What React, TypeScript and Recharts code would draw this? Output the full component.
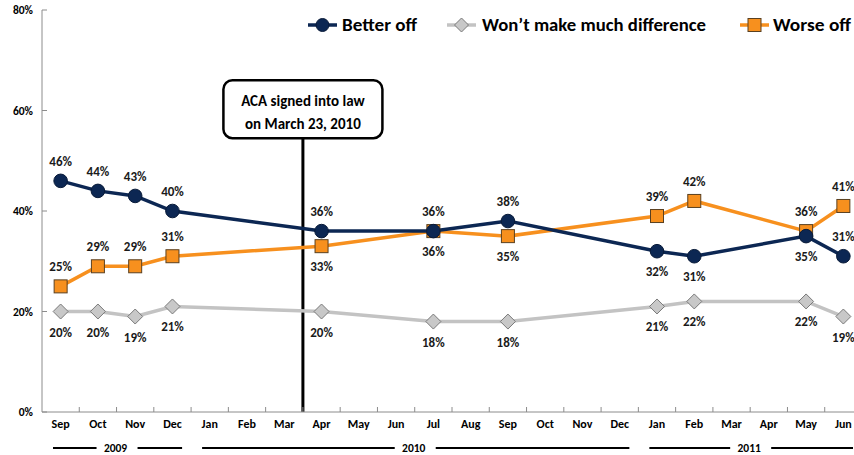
import React from "react";
import { LineChart, Line, XAxis, YAxis, ReferenceLine, LabelList } from "recharts";

const months = ["Sep", "Oct", "Nov", "Dec", "Jan", "Feb", "Mar", "Apr", "May", "Jun", "Jul", "Aug", "Sep", "Oct", "Nov", "Dec", "Jan", "Feb", "Mar", "Apr", "May", "Jun"];
const years = ["2009", "2009", "2009", "2009", "2010", "2010", "2010", "2010", "2010", "2010", "2010", "2010", "2010", "2010", "2010", "2010", "2011", "2011", "2011", "2011", "2011", "2011"];

const betterOff = [46, 44, 43, 40, null, null, null, 36, null, null, 36, null, 38, null, null, null, 32, 31, null, null, 35, 31];
const noDifference = [20, 20, 19, 21, null, null, null, 20, null, null, 18, null, 18, null, null, null, 21, 22, null, null, 22, 19];
const worseOff = [25, 29, 29, 31, null, null, null, 33, null, null, 36, null, 35, null, null, null, 39, 42, null, null, 36, 41];

// which points carry their label under the marker
const betterBelow = [16, 17, 20];
const worseBelow = [7, 10, 12];
const noDiffBelow = [0, 1, 2, 3, 7, 10, 12, 16, 17, 20, 21];

const yTicks = [0, 20, 40, 60, 80];

const NAVY = "#0c2753";
const ORANGE = "#f7901e";
const GRAY = "#c3c3c3";
const FONT = "Carlito, Calibri, Lato, 'Open Sans', sans-serif";

const CHART_W = 862;
const CHART_H = 455;
const Y_AXIS_W = 42;
const PLOT_W = CHART_W - Y_AXIS_W;
const BAND = PLOT_W / months.length;

const data = months.map((m, i) => ({
  key: `${m}-${years[i]}-${i}`,
  month: m,
  better: betterOff[i],
  same: noDifference[i],
  worse: worseOff[i],
}));

const yearGroups = years.reduce<{ label: string; from: number; to: number }[]>((acc, y, i) => {
  const last = acc[acc.length - 1];
  if (last && last.label === y) last.to = i;
  else acc.push({ label: y, from: i, to: i });
  return acc;
}, []);

function MonthTick(props: any) {
  const { x, y, payload } = props;
  const i = payload.index;
  const group = yearGroups.find((g) => g.from === i);
  let yearMark = null;
  if (group) {
    const cx = x + ((group.to - group.from) * BAND) / 2;
    const start = x - BAND / 2 + 11;
    const end = x + (group.to - group.from) * BAND + BAND / 2 - 9;
    yearMark = (
      <g>
        <line x1={start} x2={cx - 20} y1={y + 36} y2={y + 36} stroke="#000" strokeWidth={2} />
        <line x1={cx + 21} x2={end} y1={y + 36} y2={y + 36} stroke="#000" strokeWidth={2} />
        <text x={cx - 1} y={y + 40} textAnchor="middle" fontSize={11.5} fontWeight={700} fill="#000">
          {group.label}
        </text>
      </g>
    );
  }
  return (
    <g>
      {i > 0 && <line x1={x - BAND / 2} x2={x - BAND / 2} y1={y} y2={y - 5} stroke="#8c8c8c" />}
      <text x={x} y={y + 16} textAnchor="middle" fontSize={12} fontWeight={700} fill="#000">
        {months[i]}
      </text>
      {yearMark}
    </g>
  );
}

const makeLabel = (below: number[]) => (props: any) => {
  const { x, y, value, index } = props;
  if (value == null || x == null || y == null) return null;
  const down = below.includes(index);
  return (
    <text x={x} y={down ? y + 25 : y - 15} textAnchor="middle" fontSize={13} fontWeight={700} fill="#1a1a1a">
      {`${value}%`}
    </text>
  );
};

const Diamond = (props: any) => {
  const { cx, cy } = props;
  if (cx == null || cy == null) return null;
  const s = 7.5;
  return (
    <path
      d={`M${cx},${cy - s}L${cx + s},${cy}L${cx},${cy + s}L${cx - s},${cy}Z`}
      fill="#c8c8c8"
      stroke="#7a7a7a"
      strokeWidth={1}
    />
  );
};

const Square = (props: any) => {
  const { cx, cy } = props;
  if (cx == null || cy == null) return null;
  const s = 6.5;
  return <rect x={cx - s} y={cy - s} width={s * 2} height={s * 2} fill={ORANGE} stroke="#5a4020" strokeWidth={1} />;
};

const Circle = (props: any) => {
  const { cx, cy } = props;
  if (cx == null || cy == null) return null;
  return <circle cx={cx} cy={cy} r={6.8} fill={NAVY} stroke="#081a38" strokeWidth={1} />;
};

const AcaBox = (props: any) => {
  const vb = props.viewBox || {};
  const x = vb.x ?? 0;
  const y = vb.y ?? 0;
  return (
    <g>
      <rect x={x - 79.5} y={y - 58} width={159} height={58} rx={9} ry={9} fill="#fff" stroke="#000" strokeWidth={2.5} />
      <text x={x} y={y - 32} textAnchor="middle" fontSize={15} fontWeight={700} fill="#000">
        ACA signed into law
      </text>
      <text x={x} y={y - 9} textAnchor="middle" fontSize={15} fontWeight={700} fill="#000">
        on March 23, 2010
      </text>
    </g>
  );
};

// legend layout: marker start, text start, text width
const legendItems = [
  { name: "Better off", shape: "circle", color: NAVY, mx: 308, tx: 342, tw: 75 },
  { name: "Won\u2019t make much difference", shape: "diamond", color: GRAY, mx: 447, tx: 482, tw: 224 },
  { name: "Worse off", shape: "square", color: ORANGE, mx: 740, tx: 773, tw: 78 },
];

function Legend() {
  return (
    <svg width={854} height={40} style={{ position: "absolute", left: 0, top: 5 }}>
      {legendItems.map((it) => {
        const cx = it.mx + 14.5;
        const cy = 20;
        return (
          <g key={it.name}>
            <line x1={it.mx} x2={it.mx + 29} y1={cy} y2={cy} stroke={it.color} strokeWidth={3.5} />
            {it.shape === "circle" && <circle cx={cx} cy={cy} r={6.5} fill={NAVY} stroke="#081a38" />}
            {it.shape === "diamond" && (
              <path d={`M${cx},${cy - 7}L${cx + 7},${cy}L${cx},${cy + 7}L${cx - 7},${cy}Z`} fill="#c8c8c8" stroke="#7a7a7a" />
            )}
            {it.shape === "square" && (
              <rect x={cx - 6.5} y={cy - 6.5} width={13} height={13} fill={ORANGE} stroke="#5a4020" />
            )}
            <text
              x={it.tx}
              y={cy + 6}
              fontSize={17}
              fontWeight={700}
              fill="#000"
              textLength={it.tw}
              lengthAdjust="spacingAndGlyphs"
              style={{ fontFamily: FONT }}
            >
              {it.name}
            </text>
          </g>
        );
      })}
    </svg>
  );
}

export default function App() {
  return (
    <div style={{ position: "fixed", left: 0, top: 0, width: 854, height: 455, overflow: "hidden", background: "#fff", fontFamily: FONT }}>
      <LineChart
        width={CHART_W}
        height={CHART_H}
        data={data}
        margin={{ top: 10, right: 0, bottom: 0, left: 0 }}
        style={{ fontFamily: FONT }}
      >
        <XAxis
          dataKey="key"
          scale="band"
          interval={0}
          height={43}
          tickSize={0}
          tickMargin={0}
          tickLine={false}
          axisLine={{ stroke: "#8c8c8c" }}
          tick={<MonthTick />}
        />
        <YAxis
          width={Y_AXIS_W}
          domain={[0, 80]}
          ticks={yTicks}
          tickSize={-5}
          tickMargin={14}
          tickLine={{ stroke: "#8c8c8c" }}
          axisLine={{ stroke: "#8c8c8c" }}
          tickFormatter={(v) => `${v}%`}
          tick={{ fontSize: 11.5, fontWeight: 700, fill: "#000" }}
        />
        <ReferenceLine
          segment={[
            { x: data[7].key, y: 0 },
            { x: data[7].key, y: 54.5 },
          ]}
          position="start"
          stroke="#000"
          strokeWidth={3}
          label={<AcaBox />}
        />
        <Line
          dataKey="same"
          stroke={GRAY}
          strokeWidth={3.5}
          connectNulls
          dot={<Diamond />}
          activeDot={false}
          isAnimationActive={false}
        >
          <LabelList dataKey="same" content={makeLabel(noDiffBelow)} />
        </Line>
        <Line
          dataKey="worse"
          stroke={ORANGE}
          strokeWidth={3.5}
          connectNulls
          dot={<Square />}
          activeDot={false}
          isAnimationActive={false}
        >
          <LabelList dataKey="worse" content={makeLabel(worseBelow)} />
        </Line>
        <Line
          dataKey="better"
          stroke={NAVY}
          strokeWidth={3.5}
          connectNulls
          dot={<Circle />}
          activeDot={false}
          isAnimationActive={false}
        >
          <LabelList dataKey="better" content={makeLabel(betterBelow)} />
        </Line>
      </LineChart>
      <Legend />
    </div>
  );
}
